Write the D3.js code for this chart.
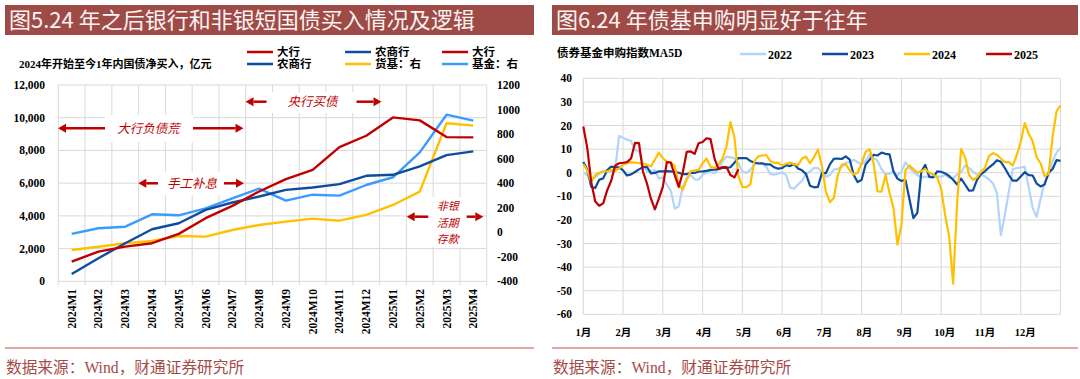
<!DOCTYPE html>
<html><head><meta charset="utf-8">
<script src="https://cdn.jsdelivr.net/npm/d3@7"></script>
<style>body{margin:0;background:#fff} svg{display:block}</style>
</head><body>
<svg id="c" width="1080" height="379"></svg>
<script>
// ---------------- DATA: left chart ----------------
const leftCats = ["2024M1","2024M2","2024M3","2024M4","2024M5","2024M6","2024M7","2024M8","2024M9","2024M10","2024M11","2024M12","2025M1","2025M2","2025M3","2025M4"];
const bigBank   = [1204,1816,2122,2327,2898,3857,4612,5490,6245,6816,8204,8898,10020,9837,8816,8796];
const ruralBank = [449,1408,2327,3184,3551,4367,4816,5184,5592,5735,5939,6449,6510,7020,7714,7939];
const mmfRight  = [-145,-118,-90,-71,-31,-36,18,59,86,111,94,141,222,331,888,869];
const fundRight = [-14,32,45,146,138,195,276,355,257,306,298,385,448,651,958,909];
const leftTicks  = [0,2000,4000,6000,8000,10000,12000];
const rightTicks = [-400,-200,0,200,400,600,800,1000,1200];

// ---------------- DATA: right chart (MA5D, sampled every 0.1 month) ----------------
const monthLabels = ["1月","2月","3月","4月","5月","6月","7月","8月","9月","10月","11月","12月"];
const rightYTicks = [-60,-50,-40,-30,-20,-10,0,10,20,30,40];
const y2022 = [0,-1,-3,-2,-0.5,0.5,1,0.5,1.5,15.5,
 14.8,14,13.5,9.5,9.2,4,0.6,0.8,1,-2.5,
 -2,-5,-7.6,-15.2,-14.2,-6,-2.3,-1,-2.8,-3,
 -0.8,0,0.5,-0.3,1.8,4.8,6.8,6.5,6.2,4,
 0.6,-0.1,1.2,3.4,4.3,3.8,2.5,-0.5,-0.8,-0.4,
 0.2,-1,-6.3,-6.8,-5,-3.4,-0.5,0.5,2,2,
 0.3,-1.8,-1,1.3,1.6,2.5,4.2,4.5,5.5,4.5,
 3.5,5,7.6,6.2,5,1.5,-0.6,-0.5,0.5,-1.2,
 0.5,4.4,2.2,0.3,-1,-2,-1.8,-1.6,-1,-1.5,
 -1.8,-0.8,-2.2,-2.3,-0.8,0.3,3,2,0.5,-0.8,
 -0.8,-1.6,-2.8,-4.5,-8.5,-26.5,-18,-8,1.5,2,
 2.2,2.5,-6,-15,-18.7,-11,-4,-1.2,4.8,8.5,
 10.5];
const y2023 = [4.5,1.3,-6,-6.5,-3,-2.4,1,2.6,2.3,2.3,
 1,-1.2,-0.7,0.3,1.4,2.3,2.5,-0.3,-0.1,0.6,
 0.6,0.7,0.6,0.4,0,-0.6,-0.6,-0.1,-0.1,0.5,
 0.6,0.8,1.2,1.3,1.5,2,2,2.3,4.2,6.2,
 6.2,6.2,5,4.3,3.9,4,3.5,3.5,2.3,1.7,
 2,3.2,2.8,3.7,1.8,1,-0.5,-5.5,-6.2,-6,
 -0.1,-0.2,3.5,5.9,6,5.8,6.9,5.5,-1,-4,
 -3,3.5,5.5,7.6,7.3,8.5,8,7.8,0.5,-2.5,
 -3.5,-3,-11,-19.2,-17,0.5,3.3,-1.8,-2,0.6,
 0.4,-0.3,-1.4,-3,-5,-2.5,-5,-7.6,-7.5,-3,
 -0.6,0.6,2.2,3.5,5.3,4.6,2,-1,-3.4,-3.4,
 -1.6,0.2,-1,-1.2,-4.6,-5.8,-5,0,1.5,5.3,
 5];
const y2024 = [3.7,1,-4,-1,0,0.5,0.5,1.3,0.8,1.8,
 3.3,4.1,4.5,4.3,4.1,3.8,3.4,2.7,5.5,8.5,
 6.2,4.6,4.3,3,-5,-7.2,-3,0.6,1,1.2,
 4,6,2.5,2,3.5,6,11,21.5,15,-1.5,
 -6,-6.1,-5,4.8,6.9,7.3,7.5,5,4.2,4.3,
 3,3.8,4.3,3.6,3.2,6,6.8,4,6.5,9.8,
 3,-8,-12.5,-10.7,-1,3.4,3.6,1,-0.8,0,
 4,8.8,10,4,-7.9,-8,-1,-8.5,-15,-30.5,
 -22,1,3,1.5,0,0.6,1.6,0,-0.8,-2,
 -7,-18,-27,-47,-13,10,6.5,-1,-3,-2,
 0.5,2,7,8.3,7.6,6,4.5,4.5,3,7.5,
 13,21,16.5,13.3,6.5,4,-1.5,-0.5,15,26,
 28.5];
const y2025 = [19.6,10.5,-4,-12.2,-14,-13,-7.5,-3.5,3,4,
 4.2,4.5,6,12.6,12.5,0.5,-4.5,-11,-15.5,-11,
 -6,4.5,4.3,-1,-6,0,8.8,9,8,12.5,
 13,14.6,14.2,6,1.6,2.4,2.4,-1,-2,1.5];
const seriesR = [
  {name:"2022", values:y2022, color:"#B3D4FA"},
  {name:"2023", values:y2023, color:"#0E4C9D"},
  {name:"2024", values:y2024, color:"#FFC000"},
  {name:"2025", values:y2025, color:"#C00000"}
];
const STEP = 0.1;

// ---------------- STYLE ----------------
const SERIF = "'Liberation Serif','Times New Roman','Noto Sans CJK SC',serif";
const CJK = "'Noto Sans CJK SC',sans-serif";
const GRID = "#D9D9D9";
const RED = "#C00000", DBLUE = "#0E4C9D", YEL = "#FFC000", LBLUE = "#3A9BFF";
const BANNER = "#9E4B48";

const svg = d3.select("#c");

// ---------- banners ----------
function banner(x, w, txt){
  svg.append("rect").attr("x",x).attr("y",5).attr("width",w).attr("height",30).attr("fill",BANNER);
  svg.append("text").attr("x",x+4).attr("y",28).attr("fill","#FAF3F2")
    .attr("font-family",CJK).attr("font-size",22).text(txt);
}
banner(5,529,"图5.24 年之后银行和非银短国债买入情况及逻辑");
banner(552,526,"图6.24 年债基申购明显好于往年");

// ---------- footers ----------
function footer(x,w){
  svg.append("line").attr("x1",x).attr("x2",x+w).attr("y1",348).attr("y2",348)
    .attr("stroke","#CF8C89").attr("stroke-width",1.5);
  svg.append("text").attr("x",x+1).attr("y",373).attr("fill","#A54A46")
    .attr("font-family",SERIF).attr("font-size",15.7).text("数据来源：Wind，财通证券研究所");
}
footer(5,529); footer(552,526);

// =================== LEFT CHART ===================
const L = {x0:58.3, x1:486.7, y0:85, y1:281.3};
const xb = d3.scaleBand().domain(leftCats).range([L.x0,L.x1]).padding(0);
const yl = d3.scaleLinear().domain([0,12000]).range([L.y1,L.y0]);
const yr = d3.scaleLinear().domain([-400,1200]).range([L.y1,L.y0]);
const gL = svg.append("g");

// grid
gL.selectAll(".hg").data(leftTicks).join("line")
  .attr("x1",L.x0).attr("x2",L.x1).attr("y1",d=>yl(d)).attr("y2",d=>yl(d))
  .attr("stroke",GRID).attr("stroke-width",1);
const bounds = leftCats.map(c=>xb(c)).concat([L.x1]);
gL.selectAll(".vg").data(bounds).join("line")
  .attr("x1",d=>d).attr("x2",d=>d).attr("y1",L.y0).attr("y2",L.y1+4)
  .attr("stroke",GRID).attr("stroke-width",1);

// axis labels
gL.selectAll(".yl").data(leftTicks).join("text")
  .attr("x",45).attr("y",d=>yl(d)).attr("dy","0.35em").attr("text-anchor","end")
  .attr("font-family",SERIF).attr("font-weight","bold").attr("font-size",11.5)
  .text(d=>d3.format(",")(d));
gL.selectAll(".yr").data(rightTicks).join("text")
  .attr("x",497).attr("y",d=>yr(d)).attr("dy","0.35em").attr("text-anchor","start")
  .attr("font-family",SERIF).attr("font-weight","bold").attr("font-size",11.5)
  .text(d=>d);
gL.selectAll(".xl").data(leftCats).join("text")
  .attr("transform",d=>`translate(${xb(d)+xb.bandwidth()/2},289) rotate(-90)`)
  .attr("dy","0.35em").attr("text-anchor","end")
  .attr("font-family",SERIF).attr("font-weight","bold").attr("font-size",11.5)
  .text(d=>d);

// annotation boxes (white, under lines)
const boxes = [[105,115,88,27],[267,92,89,21],[157,172,67,23],[421,197,51,50]];
gL.selectAll(".bx").data(boxes).join("rect")
  .attr("x",d=>d[0]).attr("y",d=>d[1]).attr("width",d=>d[2]).attr("height",d=>d[3]).attr("fill","#fff");

// lines
const cx = c=>xb(c)+xb.bandwidth()/2;
const leftSeries = [
  {vals:fundRight, y:yr, color:LBLUE},
  {vals:mmfRight, y:yr, color:YEL},
  {vals:ruralBank, y:yl, color:DBLUE},
  {vals:bigBank, y:yl, color:RED}
];
leftSeries.forEach(s=>{
  const line = d3.line().x((d,i)=>cx(leftCats[i])).y(d=>s.y(d));
  gL.append("path").attr("d",line(s.vals)).attr("fill","none")
    .attr("stroke",s.color).attr("stroke-width",2.4).attr("stroke-linejoin","round");
});

// annotations
function arrow(x1,y,x2){
  const dir = Math.sign(x2-x1), hl=8, hw=4.5;
  gL.append("line").attr("x1",x1).attr("x2",x2-dir*hl).attr("y1",y).attr("y2",y)
    .attr("stroke",RED).attr("stroke-width",2.5);
  gL.append("path").attr("d",`M${x2},${y}L${x2-dir*hl},${y-hw}L${x2-dir*hl},${y+hw}Z`).attr("fill",RED);
}
function note(x,y,t,fs){
  gL.append("text").attr("x",x).attr("y",y).attr("dy","0.35em").attr("text-anchor","middle")
    .attr("fill",RED).attr("font-family",CJK).attr("font-style","italic").attr("font-size",fs||12.5).text(t);
}
arrow(105,128.3,58); arrow(193,128.3,243.5); note(148.5,128.3,"大行负债荒");
arrow(266.5,101.7,245.5); arrow(356.5,101.7,381.5); note(312.5,101.7,"央行买债");
arrow(158,183.3,138.3); arrow(224,183.3,244); note(192,183.3,"手工补息");
arrow(428.3,216.7,406.7); arrow(466.7,216.7,483.3);
note(447.7,206.5,"非银",11); note(447.7,222.7,"活期",11); note(447.7,238.9,"存款",11);

// legend left
svg.append("text").attr("x",19).attr("y",64).attr("dy","0.35em")
  .attr("font-family",SERIF).attr("font-weight","bold").attr("font-size",11)
  .text("2024年开始至今1年内国债净买入，亿元");
const legL = [
  {x:247,y:52,c:RED,t:"大行"},{x:247,y:64,c:DBLUE,t:"农商行"},
  {x:345,y:52,c:DBLUE,t:"农商行"},{x:345,y:64,c:YEL,t:"货基：右"},
  {x:442,y:52,c:RED,t:"大行"},{x:442,y:64,c:LBLUE,t:"基金：右"}
];
legL.forEach(d=>{
  svg.append("line").attr("x1",d.x).attr("x2",d.x+26).attr("y1",d.y).attr("y2",d.y)
    .attr("stroke",d.c).attr("stroke-width",2.5);
  svg.append("text").attr("x",d.x+30).attr("y",d.y).attr("dy","0.35em")
    .attr("font-family",SERIF).attr("font-weight","bold").attr("font-size",11.5).text(d.t);
});

// =================== RIGHT CHART ===================
const R = {x0:583.3, x1:1060.5, y0:78.3, y1:314.3};
const xm = d3.scaleLinear().domain([0,12]).range([R.x0,R.x1]);
const ym = d3.scaleLinear().domain([-60,40]).range([R.y1,R.y0]);
const gR = svg.append("g");
gR.selectAll(".hg").data(rightYTicks).join("line")
  .attr("x1",R.x0).attr("x2",R.x1).attr("y1",d=>ym(d)).attr("y2",d=>ym(d))
  .attr("stroke",GRID).attr("stroke-width",1);
gR.selectAll(".vg").data(d3.range(0,13)).join("line")
  .attr("x1",d=>xm(d)).attr("x2",d=>xm(d)).attr("y1",R.y0).attr("y2",R.y1)
  .attr("stroke",GRID).attr("stroke-width",1);
gR.selectAll(".yl").data(rightYTicks).join("text")
  .attr("x",572).attr("y",d=>ym(d)).attr("dy","0.35em").attr("text-anchor","end")
  .attr("font-family",SERIF).attr("font-weight","bold").attr("font-size",11.5).text(d=>d);
gR.selectAll(".xl").data(monthLabels).join("text")
  .attr("x",(d,i)=>xm(i)+i*0.4).attr("y",332).attr("dy","0.35em").attr("text-anchor","middle")
  .attr("font-family",SERIF).attr("font-weight","bold").attr("font-size",10.5).text(d=>d);

seriesR.forEach(s=>{
  const line = d3.line().x((d,i)=>xm(i*STEP)).y(d=>ym(d));
  gR.append("path").attr("d",line(s.values)).attr("fill","none")
    .attr("stroke",s.color).attr("stroke-width",2.2).attr("stroke-linejoin","round");
});

// legend right
svg.append("text").attr("x",557).attr("y",53).attr("dy","0.35em")
  .attr("font-family",SERIF).attr("font-weight","bold").attr("font-size",11.5)
  .text("债券基金申购指数MA5D");
const legX = [740,822,904,986];
seriesR.forEach((s,i)=>{
  svg.append("line").attr("x1",legX[i]).attr("x2",legX[i]+26).attr("y1",54).attr("y2",54)
    .attr("stroke",s.color).attr("stroke-width",2.5);
  svg.append("text").attr("x",legX[i]+28).attr("y",55).attr("dy","0.35em")
    .attr("font-family",SERIF).attr("font-weight","bold").attr("font-size",12).text(s.name);
});
</script>
</body></html>
